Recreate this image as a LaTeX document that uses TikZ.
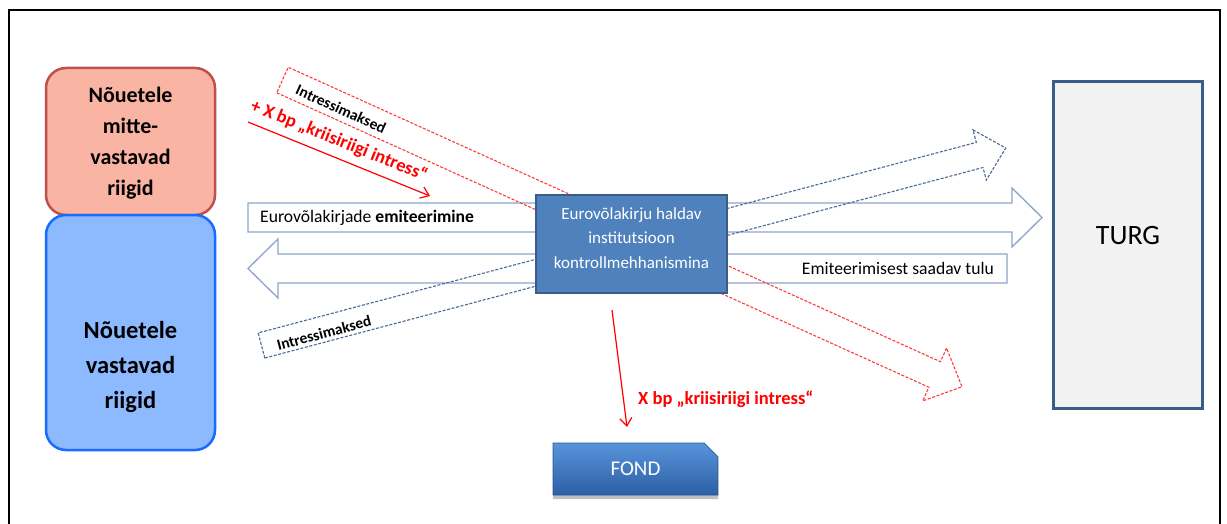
\documentclass[tikz,border=0pt]{standalone}
\usepackage{fontspec}
\setmainfont{Carlito}
\usetikzlibrary{arrows.meta,shapes.misc,shadows}
\definecolor{redfill}{RGB}{250,180,164}
\definecolor{redline}{RGB}{192,80,77}
\definecolor{bluefill}{RGB}{141,185,255}
\definecolor{blueline}{RGB}{22,108,255}
\definecolor{midfill}{RGB}{79,129,189}
\definecolor{midline}{RGB}{56,93,138}
\definecolor{arrline}{RGB}{140,165,200}
\definecolor{dashblue}{RGB}{75,105,150}
\definecolor{dashred}{RGB}{255,60,60}
\definecolor{fondtop}{RGB}{88,148,218}
\definecolor{fondbot}{RGB}{45,95,165}
\definecolor{turgfill}{RGB}{242,242,242}
\definecolor{turgline}{RGB}{56,93,138}
\begin{document}
\begin{tikzpicture}[x=1pt,y=-1pt,
  bigarrow/.style={draw=arrline, line width=1.3pt, fill=white, line join=miter},
  dblue/.style={draw=dashblue, line width=1.1pt, dash pattern=on 3pt off 1.6pt},
  dred/.style={draw=dashred, line width=1.1pt, dash pattern=on 3pt off 1.6pt},
  redarrow/.style={draw=red, line width=1.2pt, -{Straight Barb[length=8pt,width=12pt,line width=1.2pt]}},
  redlabel/.style={text=red, font=\fontsize{18.5}{22}\selectfont\bfseries, inner sep=0pt},
  arrtext/.style={font=\fontsize{17.6}{22}\selectfont, inner sep=0pt},
  boldtag/.style={font=\fontsize{15.5}{20}\selectfont\bfseries, inner sep=0pt},
  countrybox/.style={rounded corners=20pt, line width=2.5pt, minimum width=169pt, inner sep=0pt},
  fondbox/.style={chamfered rectangle, chamfered rectangle corners=north east,
     chamfered rectangle xsep=7pt, chamfered rectangle ysep=7pt,
     minimum width=165pt, minimum height=52pt, inner sep=0pt,
     top color=fondtop, bottom color=fondbot, draw=fondbot!90!black, line width=0.6pt,
     text=white, font=\fontsize{21}{24}\selectfont,
     drop shadow={shadow xshift=0pt, shadow yshift=-4pt, opacity=.35, fill=black!70}}
]
\useasboundingbox (0,0) rectangle (1227,524);
\fill[white] (0,0) rectangle (1227,524);
% outer frame
\draw[black, line width=2.2pt] (9,524) -- (9,10) -- (1220,10) -- (1220,524);

% country boxes
\node[countrybox, draw=redline, fill=redfill, minimum height=147pt] (nonc) at (130.5,141.5) {};
\node[countrybox, draw=blueline, fill=bluefill, minimum height=235pt] (comp) at (130.5,332.5) {};
\node[align=center, font=\fontsize{22}{31}\selectfont\bfseries, inner sep=0pt] (nonctxt) at (130.5,143.5)
  {Nõuetele\\mitte-\\vastavad\\riigid};
\node[align=center, font=\fontsize{24.5}{35}\selectfont\bfseries, inner sep=0pt] (comptxt) at (130.5,367)
  {Nõuetele\\vastavad\\riigid};

% market
\node[draw=turgline, fill=turgfill, line width=3pt, minimum width=149pt, minimum height=326pt, inner sep=0pt] (turg) at (1127.5,245) {};
\node[font=\fontsize{28}{30}\selectfont, inner sep=0pt] (turgtxt) at (1128,236) {TURG};

% big horizontal arrows
\coordinate (rtail) at (248,217.5);
\coordinate (rtip) at (1042,217.5);
\coordinate (ltail) at (1007,268.5);
\coordinate (ltip) at (248,268.5);
\path[bigarrow] (248,203) -- (1012,203) -- (1012,188) -- (rtip) -- (1012,247) -- (1012,232) -- (248,232) -- cycle;
\path[bigarrow] (1007,254) -- (278,254) -- (278,239) -- (ltip) -- (278,298) -- (278,283) -- (1007,283) -- cycle;

% blue dashed arrow (interest payments of compliant countries -> market)
\coordinate (btail) at (261.5,345.5);
\coordinate (btip) at (1006,148);
\begin{scope}[shift={(btail)}, rotate=14.86]
  \path[dblue] (0,13) -- (743,13) -- (743,26) -- (770,0) -- (743,-26) -- (743,-13) -- (0,-13) -- cycle;
\end{scope}

% red dashed arrow (interest payments of non-compliant countries -> market)
\coordinate (dtail) at (282.5,80);
\coordinate (dtip) at (962,387);
\begin{scope}[shift={(dtail)}, rotate=-24.3]
  \path[dred] (0,14) -- (715.6,14) -- (715.6,29) -- (745.6,0) -- (715.6,-29) -- (715.6,-14) -- (0,-14) -- cycle;
\end{scope}

% thin red arrows
\coordinate (ra1) at (248,122);
\coordinate (ra2) at (430,196);
\draw[redarrow] (ra1) -- (ra2);
\node[redlabel, rotate=-22] (ralab) at (339,141) {+ X bp „kriisiriigi intress“};

% institution
\node[draw=midline, fill=midfill, line width=2pt, minimum width=191pt, minimum height=98pt, inner sep=0pt] (inst) at (631.5,244) {};
\node[align=center, text=white, font=\fontsize{17}{24.5}\selectfont, inner sep=0pt] (insttxt) at (631.5,238)
  {Eurovõlakirju haldav\\institutsioon\\kontrollmehhanismina};

% arrow texts
\node[arrtext, anchor=west] (emit) at (260,217.5) {Eurovõlakirjade \textbf{emiteerimine}};
\node[arrtext, anchor=east] (tulu) at (994,268.5) {Emiteerimisest saadav tulu};
\node[boldtag, rotate=-24.3] (intr1) at (341,109) {Intressimaksed};
\node[boldtag, rotate=14.86] (intr2) at (324,333) {Intressimaksed};

% fund
\node[fondbox] (fond) at (635.5,469) {FOND};
\coordinate (rb1) at (612,310);
\coordinate (rb2) at (627,427);
\draw[redarrow] (rb1) -- (rb2);
\node[redlabel, anchor=west] (rblab) at (638,399) {X bp „kriisiriigi intress“};
\end{tikzpicture}
\end{document}
